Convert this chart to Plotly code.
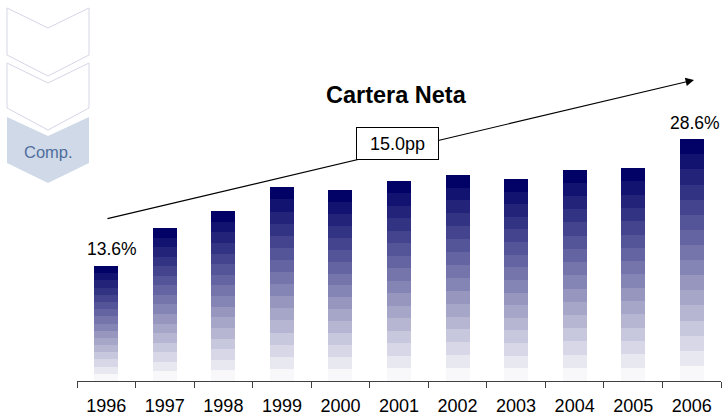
import plotly.graph_objects as go

# ---- data ----
years = ["1996", "1997", "1998", "1999", "2000", "2001", "2002", "2003", "2004", "2005", "2006"]
cartera = [13.6, 18.1, 20.1, 22.9, 22.6, 23.7, 24.4, 23.9, 25.0, 25.2, 28.6]
first_label = "13.6%"
last_label = "28.6%"
growth_label = "15.0pp"
title_text = "Cartera Neta"
side_label = "Comp."

# ---- layout geometry ----
W, H = 722, 418
ML, MR, MT, MB = 77, 1, 40, 37
PW, PH = W - ML - MR, H - MT - MB
YMAX = 40.33

def px(x):
    return (x - ML) / PW

def py(y):
    return (H - MB - y) / PH

N_BANDS = 16
top_rgb = (2, 2, 102)
bot_rgb = (248, 248, 251)

fig = go.Figure()
for i in range(N_BANDS):
    t = i / (N_BANDS - 1)  # 0 bottom, 1 top
    c = tuple(round(bot_rgb[k] + (top_rgb[k] - bot_rgb[k]) * t) for k in range(3))
    fig.add_trace(go.Bar(
        x=years,
        y=[v / N_BANDS for v in cartera],
        marker=dict(color="rgb(%d,%d,%d)" % c, line=dict(width=0)),
        showlegend=False,
        hoverinfo="skip",
    ))

FONT = "Liberation Sans, Arial, sans-serif"

fig.update_layout(
    width=W, height=H,
    margin=dict(l=ML, r=MR, t=MT, b=MB),
    barmode="stack",
    bargap=0.59,
    plot_bgcolor="white",
    paper_bgcolor="white",
    font=dict(family=FONT, color="black"),
    xaxis=dict(
        type="category",
        range=[-0.5, len(years) - 0.5],
        showline=True, linecolor="#404040", linewidth=1,
        ticks="outside", tickson="boundaries", ticklen=6, tickcolor="#404040",
        tickangle=0, ticklabelstandoff=8,
        tickfont=dict(size=18, color="black", family=FONT),
        showgrid=False, zeroline=False,
    ),
    yaxis=dict(visible=False, range=[0, YMAX], showgrid=False, zeroline=False),
)

# chevrons at the left (decorative)
def chevron(top, notch, side, tip, x0=7, x1=89):
    xm = (x0 + x1) / 2
    pts = [(x0, top), (xm, notch), (x1, top), (x1, side), (xm, tip), (x0, side)]
    d = "M " + " L ".join("%f %f" % (px(a), py(b)) for a, b in pts) + " Z"
    return d

shapes = [
    dict(type="path", xref="paper", yref="paper", path=chevron(8, 28, 55, 76),
         line=dict(color="#d6d6e8", width=1), fillcolor="rgba(0,0,0,0)", layer="above"),
    dict(type="path", xref="paper", yref="paper", path=chevron(63, 83, 108, 130),
         line=dict(color="#d6d6e8", width=1), fillcolor="rgba(0,0,0,0)", layer="above"),
    dict(type="path", xref="paper", yref="paper", path=chevron(117, 136, 163, 183),
         line=dict(width=0), fillcolor="#cfd9e8", layer="above"),
]
fig.update_layout(shapes=shapes)

annotations = [
    # growth arrow
    dict(xref="paper", yref="paper", x=px(694), y=py(80), ax=106 - 694, ay=219 - 80,
         text="", showarrow=True, arrowhead=2, arrowsize=1.4, arrowwidth=1.2,
         arrowcolor="black", standoff=0, startstandoff=0),
    # box
    dict(xref="paper", yref="paper", x=px(397.5), y=py(143), text=growth_label,
         showarrow=False, bgcolor="white", bordercolor="black", borderwidth=1,
         width=79, height=29, font=dict(size=18, color="black", family=FONT),
         xanchor="center", yanchor="middle"),
    # title
    dict(xref="paper", yref="paper", x=px(396.5), y=py(95), text="<b>%s</b>" % title_text,
         showarrow=False, font=dict(size=23.5, color="black", family=FONT),
         xanchor="center", yanchor="middle"),
    # first / last labels (category index positions)
    dict(xref="x", yref="y", x=0, y=cartera[0], text=first_label, showarrow=False,
         xanchor="center", yanchor="middle", yshift=17, xshift=6,
         font=dict(size=17.5, color="black", family=FONT)),
    dict(xref="x", yref="y", x=len(years) - 1, y=cartera[-1], text=last_label, showarrow=False,
         xanchor="center", yanchor="middle", yshift=16, xshift=3,
         font=dict(size=17.5, color="black", family=FONT)),
    # side label
    dict(xref="paper", yref="paper", x=px(48), y=py(152), text=side_label,
         showarrow=False, xanchor="center", yanchor="middle",
         font=dict(size=16.5, color="#4f6e9c", family=FONT)),
]
fig.update_layout(annotations=annotations)

fig.write_html(
    "out.html",
    config={"displayModeBar": False},
    post_script="document.body.style.margin='0';document.body.style.padding='0';",
)
